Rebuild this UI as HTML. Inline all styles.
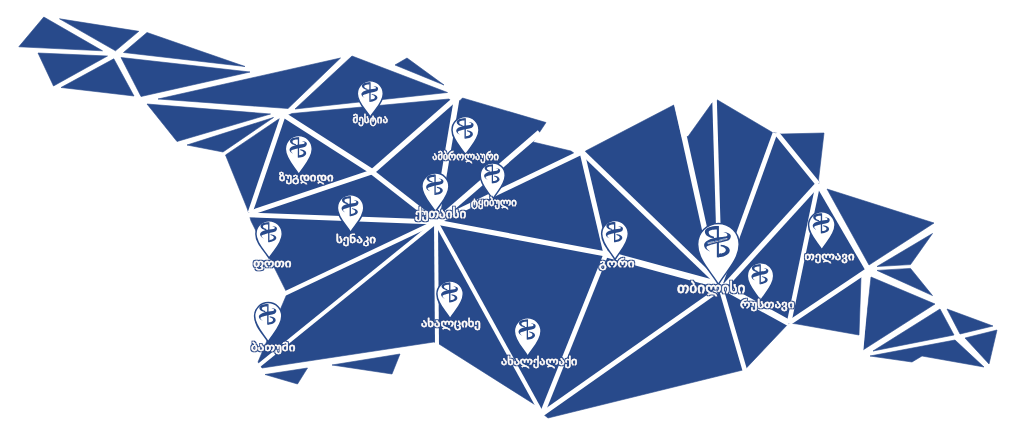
<!DOCTYPE html>
<html lang="ka">
<head>
<meta charset="utf-8">
<title>რუკა</title>
<style>
html,body{margin:0;padding:0;background:#fff;}
body{width:1024px;height:433px;overflow:hidden;}
svg{display:block;}
.lbl{font-family:"Liberation Sans","DejaVu Sans",sans-serif;font-weight:normal;fill:#fff;stroke:#fff;stroke-width:.35px;stroke-linejoin:round;filter:url(#ol);}
</style>
</head>
<body>
<svg width="1024" height="433" viewBox="0 0 1024 433">
<defs><filter id="ol" x="-5%" y="-30%" width="110%" height="160%"><feMorphology in="SourceAlpha" operator="dilate" radius="1.1" result="d"/><feFlood flood-color="#284a8b"/><feComposite in2="d" operator="in" result="o"/><feMerge><feMergeNode in="o"/><feMergeNode in="SourceGraphic"/></feMerge></filter></defs>
<rect width="1024" height="433" fill="#fff"/>
<g fill="#284a8b" stroke="#284a8b" stroke-width="0.6" stroke-linejoin="round">
<polygon points="225.5,155 278,119.5 292,113.5 449,99 452,101.5 460,100.5 462.5,98 546,122.5 533,142 571,151 574.5,153.5 583,154.5 585.5,151 673.8,105 681.5,137 688,136.5 712,103 717.5,100 772.5,132.5 781,134 824,133 818.5,180 820,186 866,268 861,277 859,335 797,324 789,323 745,369.5 548,418 543,414 537,406 439,344 434,342 262,368 258,362 286,296 286,291 251,221 249,214 247,208"/>
<polygon points="43.8,17 18.8,46.8 102.5,50.8"/>
<polygon points="59.5,18.8 138.8,31.3 115.5,50.8"/>
<polygon points="147,32.5 245,66.5 123.5,52.5"/>
<polygon points="38,53 107.5,56 53.5,86"/>
<polygon points="113.8,58.8 61,87.5 134,96"/>
<polygon points="121,57.5 250,72 141,96.5"/>
<polygon points="158,99 340.5,58 288,108.5"/>
<polygon points="147,104 270.5,114 177,141.5"/>
<polygon points="187,145 273.5,117.5 223,152"/>
<polygon points="352,56 447.5,92.5 295,109"/>
<polygon points="407,58 395,65 444,85"/>
<polygon points="265,374.5 307.5,368 297.5,384"/>
<polygon points="332,365 400,354 392,374"/>
<polygon points="827,189 934,223 869,265"/>
<polygon points="932.5,233.5 877,266.5 910.5,264.6"/>
<polygon points="877,270.4 910.5,268.4 932.5,295.6"/>
<polygon points="871,277 935,304 863,350"/>
<polygon points="947,309 993,326 960,334"/>
<polygon points="940,309 954,335 873,351"/>
<polygon points="997,330 965,338 989,364"/>
<polygon points="870,356 955,340 984,367 922,356 912,362"/>
</g>
<g stroke="#fff" stroke-linecap="butt" fill="none">
<line x1="283" y1="116" x2="250" y2="213" stroke-width="4.8"/>
<line x1="284" y1="115" x2="372" y2="171.5" stroke-width="5.5"/>
<line x1="372" y1="172" x2="436" y2="222" stroke-width="5"/>
<line x1="250" y1="213" x2="372" y2="172" stroke-width="4.8"/>
<line x1="372" y1="172" x2="454" y2="100" stroke-width="5.3"/>
<line x1="245" y1="214.8" x2="436" y2="222" stroke-width="4.8"/>
<line x1="436" y1="222" x2="284" y2="294" stroke-width="4.4"/>
<line x1="436" y1="222" x2="257" y2="367" stroke-width="4"/>
<line x1="436" y1="222" x2="437" y2="345" stroke-width="4"/>
<line x1="436" y1="222" x2="542" y2="414" stroke-width="4.2"/>
<line x1="436" y1="222" x2="606" y2="254" stroke-width="5.2"/>
<line x1="436" y1="222" x2="582" y2="152" stroke-width="5"/>
<line x1="436" y1="222" x2="539.6" y2="132.4" stroke-width="5.5"/>
<line x1="436" y1="222" x2="457" y2="97" stroke-width="5.6"/>
<line x1="582" y1="152" x2="606" y2="254" stroke-width="5"/>
<line x1="582" y1="152" x2="720" y2="285" stroke-width="5.2"/>
<line x1="676" y1="100" x2="717" y2="285" stroke-width="5.5"/>
<line x1="714.5" y1="98" x2="720" y2="285" stroke-width="4.6"/>
<line x1="775" y1="133" x2="720" y2="285" stroke-width="4.8"/>
<line x1="818" y1="184" x2="725" y2="286" stroke-width="5.2"/>
<line x1="776.5" y1="133" x2="818" y2="184" stroke-width="5"/>
<line x1="818" y1="184" x2="789" y2="323" stroke-width="4.6"/>
<line x1="818" y1="184" x2="868" y2="270" stroke-width="5"/>
<line x1="868" y1="270" x2="789" y2="323" stroke-width="5"/>
<line x1="720" y1="285" x2="789" y2="323" stroke-width="6.5"/>
<line x1="720" y1="285" x2="745" y2="371" stroke-width="4.6"/>
<line x1="721" y1="288" x2="542" y2="414" stroke-width="4.8"/>
<line x1="606" y1="254" x2="542" y2="414" stroke-width="4.8"/>
<line x1="606" y1="254" x2="720" y2="285" stroke-width="6.5"/>
<line x1="868" y1="270" x2="861" y2="352" stroke-width="4.5"/>
</g>
<g>
<path d="M370.3,117.1 C365.75,109.823 357.3,102.662 357.3,93.7 A13,13 0 0 1 383.3,93.7 C383.3,102.662 374.85,109.823 370.3,117.1Z" fill="#fff" stroke="#284a8b" stroke-width="1.5"/><g transform="translate(370.3,93.7) scale(0.6468)" fill="#284a8b" stroke="none"><rect x="-1.5" y="-17.7" width="2" height="30.3"/><path d="M-0.4,-17.7 C-5,-17.9 -13.1,-16.5 -13.1,-12.2 C-13.1,-8.5 -8.5,-6.3 -4.2,-5.8 L-4.2,-7.4 C-7.2,-8 -9.4,-9.6 -9.4,-11.5 C-9.4,-13.4 -6,-14.2 -1.3,-14.2 Z"/><path d="M-0.4,12.6 C5,12.4 11,10 11,6 C11,2.8 7,0.8 2.2,0.4 L2.2,1.8 C5.2,2.4 7.2,3.7 7.2,5.6 C7.2,7.8 4,9.1 0.3,9.1 Z"/><path d="M-7.9,6.9 C-11.5,5.8 -14.2,3 -13.8,0.2 C-13.4,-2.4 -9,-4.8 -5.2,-5.8 C-2,-6.6 3,-6.8 6.5,-7.5 C8.5,-8 9.6,-8.6 8,-10.5 C7,-11.2 6,-11.7 4.8,-12 C8,-12 12.2,-10.5 12,-7.8 C11.9,-6 11,-4.4 9.5,-3.6 C5,-2.1 -1,-1.2 -5.2,0 C-8,0.8 -10.5,1.5 -11.5,2.4 C-11.8,3.5 -10.5,5.5 -7.9,6.9 Z"/></g>
<path d="M298.8,174.5 C294.075,166.601 285.3,158.828 285.3,149.1 A13.5,13.5 0 0 1 312.3,149.1 C312.3,158.828 303.525,166.601 298.8,174.5Z" fill="#fff" stroke="#284a8b" stroke-width="1.5"/><g transform="translate(298.8,149.1) scale(0.6716)" fill="#284a8b" stroke="none"><rect x="-1.5" y="-17.7" width="2" height="30.3"/><path d="M-0.4,-17.7 C-5,-17.9 -13.1,-16.5 -13.1,-12.2 C-13.1,-8.5 -8.5,-6.3 -4.2,-5.8 L-4.2,-7.4 C-7.2,-8 -9.4,-9.6 -9.4,-11.5 C-9.4,-13.4 -6,-14.2 -1.3,-14.2 Z"/><path d="M-0.4,12.6 C5,12.4 11,10 11,6 C11,2.8 7,0.8 2.2,0.4 L2.2,1.8 C5.2,2.4 7.2,3.7 7.2,5.6 C7.2,7.8 4,9.1 0.3,9.1 Z"/><path d="M-7.9,6.9 C-11.5,5.8 -14.2,3 -13.8,0.2 C-13.4,-2.4 -9,-4.8 -5.2,-5.8 C-2,-6.6 3,-6.8 6.5,-7.5 C8.5,-8 9.6,-8.6 8,-10.5 C7,-11.2 6,-11.7 4.8,-12 C8,-12 12.2,-10.5 12,-7.8 C11.9,-6 11,-4.4 9.5,-3.6 C5,-2.1 -1,-1.2 -5.2,0 C-8,0.8 -10.5,1.5 -11.5,2.4 C-11.8,3.5 -10.5,5.5 -7.9,6.9 Z"/></g>
<path d="M465.5,154.9 C460.775,147.187 452,139.598 452,130.1 A13.5,13.5 0 0 1 479,130.1 C479,139.598 470.225,147.187 465.5,154.9Z" fill="#fff" stroke="#284a8b" stroke-width="1.5"/><g transform="translate(465.5,130.1) scale(0.6716)" fill="#284a8b" stroke="none"><rect x="-1.5" y="-17.7" width="2" height="30.3"/><path d="M-0.4,-17.7 C-5,-17.9 -13.1,-16.5 -13.1,-12.2 C-13.1,-8.5 -8.5,-6.3 -4.2,-5.8 L-4.2,-7.4 C-7.2,-8 -9.4,-9.6 -9.4,-11.5 C-9.4,-13.4 -6,-14.2 -1.3,-14.2 Z"/><path d="M-0.4,12.6 C5,12.4 11,10 11,6 C11,2.8 7,0.8 2.2,0.4 L2.2,1.8 C5.2,2.4 7.2,3.7 7.2,5.6 C7.2,7.8 4,9.1 0.3,9.1 Z"/><path d="M-7.9,6.9 C-11.5,5.8 -14.2,3 -13.8,0.2 C-13.4,-2.4 -9,-4.8 -5.2,-5.8 C-2,-6.6 3,-6.8 6.5,-7.5 C8.5,-8 9.6,-8.6 8,-10.5 C7,-11.2 6,-11.7 4.8,-12 C8,-12 12.2,-10.5 12,-7.8 C11.9,-6 11,-4.4 9.5,-3.6 C5,-2.1 -1,-1.2 -5.2,0 C-8,0.8 -10.5,1.5 -11.5,2.4 C-11.8,3.5 -10.5,5.5 -7.9,6.9 Z"/></g>
<path d="M435.4,211.9 C430.675,204.001 421.9,196.228 421.9,186.5 A13.5,13.5 0 0 1 448.9,186.5 C448.9,196.228 440.125,204.001 435.4,211.9Z" fill="#fff" stroke="#284a8b" stroke-width="1.5"/><g transform="translate(435.4,186.5) scale(0.6716)" fill="#284a8b" stroke="none"><rect x="-1.5" y="-17.7" width="2" height="30.3"/><path d="M-0.4,-17.7 C-5,-17.9 -13.1,-16.5 -13.1,-12.2 C-13.1,-8.5 -8.5,-6.3 -4.2,-5.8 L-4.2,-7.4 C-7.2,-8 -9.4,-9.6 -9.4,-11.5 C-9.4,-13.4 -6,-14.2 -1.3,-14.2 Z"/><path d="M-0.4,12.6 C5,12.4 11,10 11,6 C11,2.8 7,0.8 2.2,0.4 L2.2,1.8 C5.2,2.4 7.2,3.7 7.2,5.6 C7.2,7.8 4,9.1 0.3,9.1 Z"/><path d="M-7.9,6.9 C-11.5,5.8 -14.2,3 -13.8,0.2 C-13.4,-2.4 -9,-4.8 -5.2,-5.8 C-2,-6.6 3,-6.8 6.5,-7.5 C8.5,-8 9.6,-8.6 8,-10.5 C7,-11.2 6,-11.7 4.8,-12 C8,-12 12.2,-10.5 12,-7.8 C11.9,-6 11,-4.4 9.5,-3.6 C5,-2.1 -1,-1.2 -5.2,0 C-8,0.8 -10.5,1.5 -11.5,2.4 C-11.8,3.5 -10.5,5.5 -7.9,6.9 Z"/></g>
<path d="M492.7,199.4 C488.325,191.936 480.2,184.592 480.2,175.4 A12.5,12.5 0 0 1 505.2,175.4 C505.2,184.592 497.075,191.936 492.7,199.4Z" fill="#fff" stroke="#284a8b" stroke-width="1.5"/><g transform="translate(492.7,175.4) scale(0.6219)" fill="#284a8b" stroke="none"><rect x="-1.5" y="-17.7" width="2" height="30.3"/><path d="M-0.4,-17.7 C-5,-17.9 -13.1,-16.5 -13.1,-12.2 C-13.1,-8.5 -8.5,-6.3 -4.2,-5.8 L-4.2,-7.4 C-7.2,-8 -9.4,-9.6 -9.4,-11.5 C-9.4,-13.4 -6,-14.2 -1.3,-14.2 Z"/><path d="M-0.4,12.6 C5,12.4 11,10 11,6 C11,2.8 7,0.8 2.2,0.4 L2.2,1.8 C5.2,2.4 7.2,3.7 7.2,5.6 C7.2,7.8 4,9.1 0.3,9.1 Z"/><path d="M-7.9,6.9 C-11.5,5.8 -14.2,3 -13.8,0.2 C-13.4,-2.4 -9,-4.8 -5.2,-5.8 C-2,-6.6 3,-6.8 6.5,-7.5 C8.5,-8 9.6,-8.6 8,-10.5 C7,-11.2 6,-11.7 4.8,-12 C8,-12 12.2,-10.5 12,-7.8 C11.9,-6 11,-4.4 9.5,-3.6 C5,-2.1 -1,-1.2 -5.2,0 C-8,0.8 -10.5,1.5 -11.5,2.4 C-11.8,3.5 -10.5,5.5 -7.9,6.9 Z"/></g>
<path d="M350.6,232.3 C345.98,224.712 337.4,217.245 337.4,207.9 A13.2,13.2 0 0 1 363.8,207.9 C363.8,217.245 355.22,224.712 350.6,232.3Z" fill="#fff" stroke="#284a8b" stroke-width="1.5"/><g transform="translate(350.6,207.9) scale(0.6567)" fill="#284a8b" stroke="none"><rect x="-1.5" y="-17.7" width="2" height="30.3"/><path d="M-0.4,-17.7 C-5,-17.9 -13.1,-16.5 -13.1,-12.2 C-13.1,-8.5 -8.5,-6.3 -4.2,-5.8 L-4.2,-7.4 C-7.2,-8 -9.4,-9.6 -9.4,-11.5 C-9.4,-13.4 -6,-14.2 -1.3,-14.2 Z"/><path d="M-0.4,12.6 C5,12.4 11,10 11,6 C11,2.8 7,0.8 2.2,0.4 L2.2,1.8 C5.2,2.4 7.2,3.7 7.2,5.6 C7.2,7.8 4,9.1 0.3,9.1 Z"/><path d="M-7.9,6.9 C-11.5,5.8 -14.2,3 -13.8,0.2 C-13.4,-2.4 -9,-4.8 -5.2,-5.8 C-2,-6.6 3,-6.8 6.5,-7.5 C8.5,-8 9.6,-8.6 8,-10.5 C7,-11.2 6,-11.7 4.8,-12 C8,-12 12.2,-10.5 12,-7.8 C11.9,-6 11,-4.4 9.5,-3.6 C5,-2.1 -1,-1.2 -5.2,0 C-8,0.8 -10.5,1.5 -11.5,2.4 C-11.8,3.5 -10.5,5.5 -7.9,6.9 Z"/></g>
<path d="M269.1,258.2 C264.48,250.643 255.9,243.207 255.9,233.9 A13.2,13.2 0 0 1 282.3,233.9 C282.3,243.207 273.72,250.643 269.1,258.2Z" fill="#fff" stroke="#284a8b" stroke-width="1.5"/><g transform="translate(269.1,233.9) scale(0.6567)" fill="#284a8b" stroke="none"><rect x="-1.5" y="-17.7" width="2" height="30.3"/><path d="M-0.4,-17.7 C-5,-17.9 -13.1,-16.5 -13.1,-12.2 C-13.1,-8.5 -8.5,-6.3 -4.2,-5.8 L-4.2,-7.4 C-7.2,-8 -9.4,-9.6 -9.4,-11.5 C-9.4,-13.4 -6,-14.2 -1.3,-14.2 Z"/><path d="M-0.4,12.6 C5,12.4 11,10 11,6 C11,2.8 7,0.8 2.2,0.4 L2.2,1.8 C5.2,2.4 7.2,3.7 7.2,5.6 C7.2,7.8 4,9.1 0.3,9.1 Z"/><path d="M-7.9,6.9 C-11.5,5.8 -14.2,3 -13.8,0.2 C-13.4,-2.4 -9,-4.8 -5.2,-5.8 C-2,-6.6 3,-6.8 6.5,-7.5 C8.5,-8 9.6,-8.6 8,-10.5 C7,-11.2 6,-11.7 4.8,-12 C8,-12 12.2,-10.5 12,-7.8 C11.9,-6 11,-4.4 9.5,-3.6 C5,-2.1 -1,-1.2 -5.2,0 C-8,0.8 -10.5,1.5 -11.5,2.4 C-11.8,3.5 -10.5,5.5 -7.9,6.9 Z"/></g>
<path d="M268.2,342 C263.44,333.945 254.6,326.02 254.6,316.1 A13.6,13.6 0 0 1 281.8,316.1 C281.8,326.02 272.96,333.945 268.2,342Z" fill="#fff" stroke="#284a8b" stroke-width="1.5"/><g transform="translate(268.2,316.1) scale(0.6766)" fill="#284a8b" stroke="none"><rect x="-1.5" y="-17.7" width="2" height="30.3"/><path d="M-0.4,-17.7 C-5,-17.9 -13.1,-16.5 -13.1,-12.2 C-13.1,-8.5 -8.5,-6.3 -4.2,-5.8 L-4.2,-7.4 C-7.2,-8 -9.4,-9.6 -9.4,-11.5 C-9.4,-13.4 -6,-14.2 -1.3,-14.2 Z"/><path d="M-0.4,12.6 C5,12.4 11,10 11,6 C11,2.8 7,0.8 2.2,0.4 L2.2,1.8 C5.2,2.4 7.2,3.7 7.2,5.6 C7.2,7.8 4,9.1 0.3,9.1 Z"/><path d="M-7.9,6.9 C-11.5,5.8 -14.2,3 -13.8,0.2 C-13.4,-2.4 -9,-4.8 -5.2,-5.8 C-2,-6.6 3,-6.8 6.5,-7.5 C8.5,-8 9.6,-8.6 8,-10.5 C7,-11.2 6,-11.7 4.8,-12 C8,-12 12.2,-10.5 12,-7.8 C11.9,-6 11,-4.4 9.5,-3.6 C5,-2.1 -1,-1.2 -5.2,0 C-8,0.8 -10.5,1.5 -11.5,2.4 C-11.8,3.5 -10.5,5.5 -7.9,6.9 Z"/></g>
<path d="M450.1,318.7 C445.48,311.049 436.9,303.522 436.9,294.1 A13.2,13.2 0 0 1 463.3,294.1 C463.3,303.522 454.72,311.049 450.1,318.7Z" fill="#fff" stroke="#284a8b" stroke-width="1.5"/><g transform="translate(450.1,294.1) scale(0.6567)" fill="#284a8b" stroke="none"><rect x="-1.5" y="-17.7" width="2" height="30.3"/><path d="M-0.4,-17.7 C-5,-17.9 -13.1,-16.5 -13.1,-12.2 C-13.1,-8.5 -8.5,-6.3 -4.2,-5.8 L-4.2,-7.4 C-7.2,-8 -9.4,-9.6 -9.4,-11.5 C-9.4,-13.4 -6,-14.2 -1.3,-14.2 Z"/><path d="M-0.4,12.6 C5,12.4 11,10 11,6 C11,2.8 7,0.8 2.2,0.4 L2.2,1.8 C5.2,2.4 7.2,3.7 7.2,5.6 C7.2,7.8 4,9.1 0.3,9.1 Z"/><path d="M-7.9,6.9 C-11.5,5.8 -14.2,3 -13.8,0.2 C-13.4,-2.4 -9,-4.8 -5.2,-5.8 C-2,-6.6 3,-6.8 6.5,-7.5 C8.5,-8 9.6,-8.6 8,-10.5 C7,-11.2 6,-11.7 4.8,-12 C8,-12 12.2,-10.5 12,-7.8 C11.9,-6 11,-4.4 9.5,-3.6 C5,-2.1 -1,-1.2 -5.2,0 C-8,0.8 -10.5,1.5 -11.5,2.4 C-11.8,3.5 -10.5,5.5 -7.9,6.9 Z"/></g>
<path d="M527.7,356.3 C523.028,348.478 514.35,340.782 514.35,331.15 A13.35,13.35 0 0 1 541.05,331.15 C541.05,340.782 532.373,348.478 527.7,356.3Z" fill="#fff" stroke="#284a8b" stroke-width="1.5"/><g transform="translate(527.7,331.15) scale(0.6642)" fill="#284a8b" stroke="none"><rect x="-1.5" y="-17.7" width="2" height="30.3"/><path d="M-0.4,-17.7 C-5,-17.9 -13.1,-16.5 -13.1,-12.2 C-13.1,-8.5 -8.5,-6.3 -4.2,-5.8 L-4.2,-7.4 C-7.2,-8 -9.4,-9.6 -9.4,-11.5 C-9.4,-13.4 -6,-14.2 -1.3,-14.2 Z"/><path d="M-0.4,12.6 C5,12.4 11,10 11,6 C11,2.8 7,0.8 2.2,0.4 L2.2,1.8 C5.2,2.4 7.2,3.7 7.2,5.6 C7.2,7.8 4,9.1 0.3,9.1 Z"/><path d="M-7.9,6.9 C-11.5,5.8 -14.2,3 -13.8,0.2 C-13.4,-2.4 -9,-4.8 -5.2,-5.8 C-2,-6.6 3,-6.8 6.5,-7.5 C8.5,-8 9.6,-8.6 8,-10.5 C7,-11.2 6,-11.7 4.8,-12 C8,-12 12.2,-10.5 12,-7.8 C11.9,-6 11,-4.4 9.5,-3.6 C5,-2.1 -1,-1.2 -5.2,0 C-8,0.8 -10.5,1.5 -11.5,2.4 C-11.8,3.5 -10.5,5.5 -7.9,6.9 Z"/></g>
<path d="M615,259.6 C610.327,251.592 601.65,243.712 601.65,233.85 A13.35,13.35 0 0 1 628.35,233.85 C628.35,243.712 619.673,251.592 615,259.6Z" fill="#fff" stroke="#284a8b" stroke-width="1.5"/><g transform="translate(615,233.85) scale(0.6642)" fill="#284a8b" stroke="none"><rect x="-1.5" y="-17.7" width="2" height="30.3"/><path d="M-0.4,-17.7 C-5,-17.9 -13.1,-16.5 -13.1,-12.2 C-13.1,-8.5 -8.5,-6.3 -4.2,-5.8 L-4.2,-7.4 C-7.2,-8 -9.4,-9.6 -9.4,-11.5 C-9.4,-13.4 -6,-14.2 -1.3,-14.2 Z"/><path d="M-0.4,12.6 C5,12.4 11,10 11,6 C11,2.8 7,0.8 2.2,0.4 L2.2,1.8 C5.2,2.4 7.2,3.7 7.2,5.6 C7.2,7.8 4,9.1 0.3,9.1 Z"/><path d="M-7.9,6.9 C-11.5,5.8 -14.2,3 -13.8,0.2 C-13.4,-2.4 -9,-4.8 -5.2,-5.8 C-2,-6.6 3,-6.8 6.5,-7.5 C8.5,-8 9.6,-8.6 8,-10.5 C7,-11.2 6,-11.7 4.8,-12 C8,-12 12.2,-10.5 12,-7.8 C11.9,-6 11,-4.4 9.5,-3.6 C5,-2.1 -1,-1.2 -5.2,0 C-8,0.8 -10.5,1.5 -11.5,2.4 C-11.8,3.5 -10.5,5.5 -7.9,6.9 Z"/></g>
<path d="M760.5,300.8 C755.88,293.056 747.3,285.437 747.3,275.9 A13.2,13.2 0 0 1 773.7,275.9 C773.7,285.437 765.12,293.056 760.5,300.8Z" fill="#fff" stroke="#284a8b" stroke-width="1.5"/><g transform="translate(760.5,275.9) scale(0.6567)" fill="#284a8b" stroke="none"><rect x="-1.5" y="-17.7" width="2" height="30.3"/><path d="M-0.4,-17.7 C-5,-17.9 -13.1,-16.5 -13.1,-12.2 C-13.1,-8.5 -8.5,-6.3 -4.2,-5.8 L-4.2,-7.4 C-7.2,-8 -9.4,-9.6 -9.4,-11.5 C-9.4,-13.4 -6,-14.2 -1.3,-14.2 Z"/><path d="M-0.4,12.6 C5,12.4 11,10 11,6 C11,2.8 7,0.8 2.2,0.4 L2.2,1.8 C5.2,2.4 7.2,3.7 7.2,5.6 C7.2,7.8 4,9.1 0.3,9.1 Z"/><path d="M-7.9,6.9 C-11.5,5.8 -14.2,3 -13.8,0.2 C-13.4,-2.4 -9,-4.8 -5.2,-5.8 C-2,-6.6 3,-6.8 6.5,-7.5 C8.5,-8 9.6,-8.6 8,-10.5 C7,-11.2 6,-11.7 4.8,-12 C8,-12 12.2,-10.5 12,-7.8 C11.9,-6 11,-4.4 9.5,-3.6 C5,-2.1 -1,-1.2 -5.2,0 C-8,0.8 -10.5,1.5 -11.5,2.4 C-11.8,3.5 -10.5,5.5 -7.9,6.9 Z"/></g>
<path d="M821.8,249.9 C817.162,242.172 808.55,234.568 808.55,225.05 A13.25,13.25 0 0 1 835.05,225.05 C835.05,234.568 826.438,242.172 821.8,249.9Z" fill="#fff" stroke="#284a8b" stroke-width="1.5"/><g transform="translate(821.8,225.05) scale(0.6592)" fill="#284a8b" stroke="none"><rect x="-1.5" y="-17.7" width="2" height="30.3"/><path d="M-0.4,-17.7 C-5,-17.9 -13.1,-16.5 -13.1,-12.2 C-13.1,-8.5 -8.5,-6.3 -4.2,-5.8 L-4.2,-7.4 C-7.2,-8 -9.4,-9.6 -9.4,-11.5 C-9.4,-13.4 -6,-14.2 -1.3,-14.2 Z"/><path d="M-0.4,12.6 C5,12.4 11,10 11,6 C11,2.8 7,0.8 2.2,0.4 L2.2,1.8 C5.2,2.4 7.2,3.7 7.2,5.6 C7.2,7.8 4,9.1 0.3,9.1 Z"/><path d="M-7.9,6.9 C-11.5,5.8 -14.2,3 -13.8,0.2 C-13.4,-2.4 -9,-4.8 -5.2,-5.8 C-2,-6.6 3,-6.8 6.5,-7.5 C8.5,-8 9.6,-8.6 8,-10.5 C7,-11.2 6,-11.7 4.8,-12 C8,-12 12.2,-10.5 12,-7.8 C11.9,-6 11,-4.4 9.5,-3.6 C5,-2.1 -1,-1.2 -5.2,0 C-8,0.8 -10.5,1.5 -11.5,2.4 C-11.8,3.5 -10.5,5.5 -7.9,6.9 Z"/></g>
<path d="M718.4,284.4 C711.12,271.929 697.6,259.658 697.6,244.3 A20.8,20.8 0 0 1 739.2,244.3 C739.2,259.658 725.68,271.929 718.4,284.4Z" fill="#fff" stroke="#284a8b" stroke-width="1.5"/><g transform="translate(718.4,244.3) scale(1.035)" fill="#284a8b" stroke="none"><rect x="-1.5" y="-17.7" width="2" height="30.3"/><path d="M-0.4,-17.7 C-5,-17.9 -13.1,-16.5 -13.1,-12.2 C-13.1,-8.5 -8.5,-6.3 -4.2,-5.8 L-4.2,-7.4 C-7.2,-8 -9.4,-9.6 -9.4,-11.5 C-9.4,-13.4 -6,-14.2 -1.3,-14.2 Z"/><path d="M-0.4,12.6 C5,12.4 11,10 11,6 C11,2.8 7,0.8 2.2,0.4 L2.2,1.8 C5.2,2.4 7.2,3.7 7.2,5.6 C7.2,7.8 4,9.1 0.3,9.1 Z"/><path d="M-7.9,6.9 C-11.5,5.8 -14.2,3 -13.8,0.2 C-13.4,-2.4 -9,-4.8 -5.2,-5.8 C-2,-6.6 3,-6.8 6.5,-7.5 C8.5,-8 9.6,-8.6 8,-10.5 C7,-11.2 6,-11.7 4.8,-12 C8,-12 12.2,-10.5 12,-7.8 C11.9,-6 11,-4.4 9.5,-3.6 C5,-2.1 -1,-1.2 -5.2,0 C-8,0.8 -10.5,1.5 -11.5,2.4 C-11.8,3.5 -10.5,5.5 -7.9,6.9 Z"/><text transform="translate(-10.2,-0.1) rotate(-14)" font-family="Liberation Sans,sans-serif" font-size="2.3" font-weight="bold" fill="#fff" textLength="19.5" lengthAdjust="spacingAndGlyphs">MEDICAL GROUP</text></g>
</g>
<g class="lbl">
<text x="352.5" y="122.8" font-size="10.5" textLength="35.5" lengthAdjust="spacingAndGlyphs">მესტია</text>
<text x="279" y="181.3" font-size="11.5" textLength="54.5" lengthAdjust="spacingAndGlyphs">ზუგდიდი</text>
<text x="432.3" y="159.8" font-size="10.2" textLength="66.6" lengthAdjust="spacingAndGlyphs">ამბროლაური</text>
<text x="414.9" y="217.9" font-size="11.8" textLength="51.4" lengthAdjust="spacingAndGlyphs">ქუთაისი</text>
<text x="471.1" y="206" font-size="10.3" textLength="45.6" lengthAdjust="spacingAndGlyphs">ტყიბული</text>
<text x="336" y="243.1" font-size="11.5" textLength="40.1" lengthAdjust="spacingAndGlyphs">სენაკი</text>
<text x="253.2" y="266.8" font-size="11.5" textLength="38.4" lengthAdjust="spacingAndGlyphs">ფოთი</text>
<text x="251" y="350.5" font-size="11.5" textLength="44.5" lengthAdjust="spacingAndGlyphs">ბათუმი</text>
<text x="420.9" y="327.2" font-size="11.5" textLength="59.9" lengthAdjust="spacingAndGlyphs">ახალციხე</text>
<text x="501" y="364.8" font-size="11.5" textLength="76.4" lengthAdjust="spacingAndGlyphs">ახალქალაქი</text>
<text x="599.1" y="267.1" font-size="11.5" textLength="35.6" lengthAdjust="spacingAndGlyphs">გორი</text>
<text x="677" y="292.6" font-size="13.8" textLength="68.5" lengthAdjust="spacingAndGlyphs">თბილისი</text>
<text x="740" y="308.3" font-size="11.5" textLength="54.5" lengthAdjust="spacingAndGlyphs">რუსთავი</text>
<text x="804.5" y="259.8" font-size="11.5" textLength="50" lengthAdjust="spacingAndGlyphs">თელავი</text>
</g>
</svg>
</body>
</html>
